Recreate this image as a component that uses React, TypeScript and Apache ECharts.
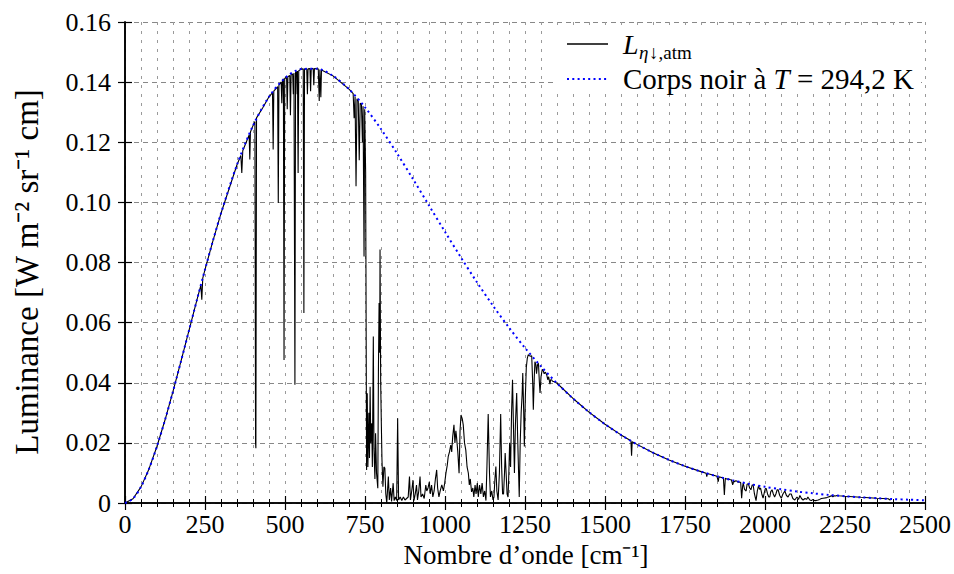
import React, { useEffect, useRef } from "react";
import * as echarts from "echarts";

// Tick labels
const xTickLabels = ["0", "250", "500", "750", "1000", "1250", "1500", "1750", "2000", "2250", "2500"];
const yTickLabels = ["0", "0.02", "0.04", "0.06", "0.08", "0.10", "0.12", "0.14", "0.16"];

// Blackbody at T = 294.2 K
const bbWavenumber = [
  0, 25, 50, 75, 100, 125, 150, 175, 200, 225, 250, 275, 300, 350, 400, 450, 500, 550, 600, 650, 700,
  750, 800, 850, 900, 950, 1000, 1050, 1100, 1150, 1200, 1250, 1300, 1350, 1400, 1450, 1500, 1550,
  1600, 1650, 1700, 1750, 1800, 1850, 1900, 1950, 2000, 2050, 2100, 2150, 2200, 2250, 2300, 2350,
  2400, 2450, 2500,
];
const bbRadiance = [
  0, 0.00143, 0.00537, 0.01134, 0.01888, 0.0276, 0.03713, 0.04717, 0.05742, 0.06766, 0.07766,
  0.08729, 0.09637, 0.11252, 0.12552, 0.13512, 0.14133, 0.14433, 0.14445, 0.14208, 0.13767, 0.13163,
  0.12439, 0.11632, 0.10775, 0.09897, 0.09021, 0.08164, 0.07341, 0.06562, 0.05834, 0.0516, 0.04543,
  0.03983, 0.03477, 0.03024, 0.02621, 0.02265, 0.0195, 0.01675, 0.01434, 0.01225, 0.01044, 0.00888,
  0.00753, 0.00637, 0.00538, 0.00454, 0.00382, 0.00321, 0.00269, 0.00226, 0.00189, 0.00158, 0.00132,
  0.0011, 0.00091,
];

// Downwelling atmospheric radiance [wavenumber, radiance]
const atmRotationalBand: [number, number][] = [
  [0, 0], [25, 0.00143], [50, 0.00537], [75, 0.01134], [100, 0.01888], [125, 0.0276],
  [150, 0.03713], [175, 0.04717], [200, 0.05742], [225, 0.06766],
  [237, 0.0724], [240, 0.0676], [243, 0.0748], [250, 0.07766], [275, 0.08729], [300, 0.09637],
  [350, 0.11252],
  [362, 0.1156], [365, 0.1098], [368, 0.1172], [388, 0.1224], [390, 0.1143], [392, 0.1234],
  [400, 0.12552], [406, 0.1269], [408, 0.02], [409, 0.0182], [411, 0.1281], [430, 0.1314],
  [450, 0.13512], [461, 0.1365], [463, 0.1176], [465, 0.137], [477, 0.1385], [479, 0.0998],
  [481, 0.139], [488, 0.14], [490, 0.133], [492, 0.1405], [495, 0.1411], [497, 0.0476],
  [499, 0.1412], [505, 0.1417], [507, 0.131], [509, 0.1418], [515, 0.1422], [517, 0.129],
  [519, 0.1424], [524, 0.1427], [526, 0.136], [528, 0.143], [530, 0.1431], [531, 0.0393],
  [533, 0.1432], [536, 0.1435], [538, 0.136], [539, 0.1437], [541, 0.1098], [543, 0.1438],
];
const atmCO2Band: [number, number][] = [
  [550, 0.14433], [557, 0.1444], [559, 0.0632], [561, 0.1444], [568, 0.1444], [570, 0.136],
  [572, 0.1444], [578, 0.1445], [580, 0.137], [582, 0.1445], [588, 0.1445], [590, 0.139],
  [592, 0.1445], [600, 0.14445], [604, 0.1444], [607, 0.1337], [609, 0.1442], [612, 0.135],
  [614, 0.144], [650, 0.14208], [700, 0.13767], [713, 0.1362], [716, 0.128], [719, 0.1352],
  [722, 0.1054], [725, 0.1345], [729, 0.1336], [732, 0.114], [735, 0.133], [739, 0.1325],
  [742, 0.12], [744, 0.132], [747, 0.082], [749, 0.131], [752, 0.11], [755, 0.011],
  [757, 0.0365], [759, 0.012], [762, 0.03], [764, 0.015], [766, 0.0387], [768, 0.02],
  [771, 0.0265], [773, 0.012], [776, 0.0554], [778, 0.018], [781, 0.008], [783, 0.0232],
  [786, 0.01], [790, 0.0049], [792, 0.045], [794, 0.0665], [796, 0.05], [797, 0.0843],
  [799, 0.04], [801, 0.0266], [803, 0.0145], [806, 0.0054], [809, 0.012], [812, 0.0116],
  [815, 0.003], [818, 0.0],
];
const atmWindow: [number, number][] = [
  [823, 0.0088], [826, 0.001], [830, 0.005], [833, 0.0005], [838, 0.0066], [841, 0.0008],
  [845, 0.002], [849, 0.0008], [852, 0.0282], [855, 0.001], [860, 0.002], [865, 0.0008],
  [870, 0.002], [875, 0.001], [880, 0.0015], [885, 0.002], [889, 0.0088], [892, 0.001],
  [896, 0.004], [900, 0.0076], [903, 0.0008], [907, 0.003], [911, 0.006], [914, 0.001],
  [918, 0.004], [922, 0.0088], [925, 0.002], [930, 0.003], [935, 0.0015], [940, 0.006],
  [943, 0.004], [947, 0.005], [951, 0.007], [954, 0.003], [958, 0.006], [962, 0.002],
  [966, 0.004], [970, 0.008], [974, 0.011], [977, 0.005], [981, 0.002], [985, 0.004],
  [990, 0.006], [995, 0.004], [999, 0.0066], [1003, 0.01], [1007, 0.0125], [1010, 0.0154],
  [1014, 0.017], [1018, 0.0193], [1021, 0.017], [1024, 0.022], [1028, 0.026], [1031, 0.02],
  [1034, 0.024], [1036, 0.022], [1040, 0.017], [1044, 0.0099], [1047, 0.024], [1050, 0.0293],
  [1054, 0.028], [1057, 0.026], [1061, 0.02], [1065, 0.0176], [1069, 0.012], [1073, 0.0099],
  [1076, 0.006], [1079, 0.008], [1083, 0.0037], [1087, 0.005], [1090, 0.002], [1094, 0.006],
  [1097, 0.003], [1101, 0.0066], [1104, 0.002], [1108, 0.006], [1112, 0.003], [1116, 0.0066],
  [1120, 0.002], [1124, 0.004], [1128, 0.0008], [1131, 0.012], [1135, 0.0296], [1139, 0.01],
  [1142, 0.002], [1146, 0.004], [1150, 0.001], [1153, 0.002], [1156, 0.008], [1159, 0.0121],
  [1162, 0.004], [1166, 0.001], [1170, 0.01], [1174, 0.0296], [1177, 0.012], [1180, 0.003],
  [1183, 0.003], [1186, 0.01], [1188, 0.0166], [1191, 0.01], [1194, 0.003], [1197, 0.002],
  [1199, 0.008], [1202, 0.02], [1205, 0.012], [1208, 0.03], [1211, 0.041], [1214, 0.025],
  [1217, 0.01], [1220, 0.026], [1224, 0.0366], [1227, 0.022], [1230, 0.01], [1232, 0.002],
  [1235, 0.02], [1238, 0.03], [1241, 0.036], [1243, 0.0432], [1246, 0.03], [1248, 0.0188],
  [1251, 0.035], [1254, 0.045], [1257, 0.048], [1260, 0.0493], [1264, 0.049], [1268, 0.0488],
  [1271, 0.049], [1274, 0.04], [1276, 0.031], [1279, 0.042], [1281, 0.047], [1284, 0.046],
  [1286, 0.043], [1289, 0.046], [1292, 0.0465], [1295, 0.04], [1297, 0.0366], [1300, 0.042],
  [1304, 0.0445], [1307, 0.044], [1310, 0.043], [1314, 0.0435], [1318, 0.0426], [1321, 0.041],
  [1324, 0.042], [1328, 0.0395], [1330, 0.041], [1333, 0.041], [1336, 0.0405], [1340, 0.0404],
];
const atmWaterBand: [number, number][] = [
  [1350, 0.03983], [1400, 0.03477], [1450, 0.03024], [1500, 0.02621], [1550, 0.02265],
  [1581, 0.0207], [1583, 0.0157], [1585, 0.0204], [1600, 0.0195], [1650, 0.01675],
  [1700, 0.01434], [1750, 0.01225], [1800, 0.01044], [1816, 0.0099], [1818, 0.0088],
  [1820, 0.0098], [1850, 0.00888], [1852, 0.0088], [1854, 0.0071], [1856, 0.0087],
  [1865, 0.0085], [1870, 0.0083], [1873, 0.0027], [1876, 0.0082], [1880, 0.008], [1885, 0.008],
  [1890, 0.0078], [1895, 0.0077], [1899, 0.006], [1902, 0.0075], [1905, 0.007], [1908, 0.0074],
  [1912, 0.0073], [1916, 0.0069], [1920, 0.007], [1924, 0.0068], [1927, 0.0016], [1930, 0.0055],
  [1932, 0.0066], [1936, 0.0045], [1941, 0.004], [1944, 0.0062], [1948, 0.0064], [1952, 0.005],
  [1956, 0.0044], [1960, 0.006], [1963, 0.006], [1967, 0.003], [1972, 0.0008], [1976, 0.004],
  [1980, 0.0058], [1983, 0.0045], [1986, 0.005], [1990, 0.003], [1994, 0.0016], [1998, 0.0035],
  [2001, 0.0048], [2004, 0.0048], [2008, 0.003], [2012, 0.002], [2015, 0.002], [2018, 0.0038],
  [2022, 0.0044], [2026, 0.003], [2030, 0.002], [2034, 0.003], [2038, 0.0044], [2041, 0.0044],
  [2046, 0.0025], [2051, 0.0016], [2056, 0.003], [2062, 0.004], [2067, 0.0025], [2072, 0.002],
  [2077, 0.003], [2082, 0.003], [2087, 0.0015], [2093, 0.001], [2100, 0.002], [2105, 0.0012],
  [2109, 0.0025], [2114, 0.0015], [2119, 0.001], [2125, 0.0015], [2130, 0.0012], [2134, 0.002],
  [2140, 0.001], [2145, 0.0008], [2150, 0.0012], [2155, 0.0008], [2160, 0.0008], [2166, 0.001],
  [2171, 0.0012], [2176, 0.0015], [2182, 0.0016], [2188, 0.0017], [2193, 0.0018], [2198, 0.002],
  [2203, 0.0022], [2208, 0.0024], [2212, 0.0021], [2216, 0.0024], [2220, 0.0023], [2225, 0.0025],
  [2230, 0.0024], [2240, 0.00235], [2250, 0.00226], [2300, 0.00189], [2350, 0.00158],
  [2385, 0.0014], [2392, 0.0009],
];

const atmSpectrum = [...atmRotationalBand, ...atmCO2Band, ...atmWindow, ...atmWaterBand];

const SERIF = "Liberation Serif";

export default function App() {
  const ref = useRef<HTMLDivElement>(null);

  useEffect(() => {
    if (!ref.current) return;
    const chart = echarts.init(ref.current, null, { renderer: "svg" });

    const commonX = { type: "value" as const, min: 0, max: 2500, interval: 250 };
    const commonY = { type: "value" as const, min: 0, max: 0.16, interval: 0.02 };
    const axisLine = { show: true, lineStyle: { color: "#000", width: 1.6 } };
    const axisTick = { show: true, inside: true, length: 7, lineStyle: { color: "#000", width: 1.2 } };
    const minorTick = { show: true, splitNumber: 5, length: 4, lineStyle: { color: "#000", width: 1 } };

    const option: any = {
      animation: false,
      backgroundColor: "#ffffff",
      textStyle: { fontFamily: SERIF },
      grid: { left: 125, right: 29, top: 22, bottom: 71, containLabel: false },
      xAxis: [
        {
          ...commonX,
          position: "bottom",
          axisLine,
          axisTick,
          minorTick,
          splitLine: { show: true, lineStyle: { color: "#9a9a9a", width: 1, type: [3, 6] } },
          minorSplitLine: { show: true, lineStyle: { color: "#9a9a9a", width: 1, type: [3, 6] } },
          axisLabel: {
            show: true,
            margin: 10,
            color: "#000",
            fontFamily: SERIF,
            fontSize: 26,
            lineHeight: 22,
            formatter: (v: number) => xTickLabels[Math.round(v / 250)] ?? "",
          },
        },
        {
          ...commonX,
          position: "top",
          axisLine,
          axisTick,
          minorTick,
          splitLine: { show: false },
          minorSplitLine: { show: false },
          axisLabel: { show: false },
        },
      ],
      yAxis: [
        {
          ...commonY,
          position: "left",
          axisLine,
          axisTick,
          splitLine: { show: true, lineStyle: { color: "#888", width: 1, type: [5, 4] } },
          axisLabel: {
            show: true,
            margin: 14,
            color: "#000",
            fontFamily: SERIF,
            fontSize: 26,
            formatter: (v: number) => yTickLabels[Math.round(v / 0.02)] ?? "",
          },
        },
        {
          ...commonY,
          position: "right",
          axisLine,
          axisTick,
          splitLine: { show: false },
          axisLabel: { show: false },
        },
      ],
      series: [
        {
          name: "atm",
          type: "line",
          data: atmSpectrum,
          symbol: "none",
          showSymbol: false,
          lineStyle: { color: "#000", width: 1.1 },
          z: 3,
        },
        {
          name: "bb",
          type: "line",
          data: bbWavenumber.map((n, i) => [n, bbRadiance[i]]),
          smooth: 0.3,
          symbol: "none",
          showSymbol: false,
          lineStyle: { color: "#0000ff", width: 2, type: [2, 3.3] },
          z: 4,
        },
      ],
      graphic: [
        {
          type: "rect",
          z: 100,
          shape: { x: 553, y: 26, width: 368, height: 68 },
          style: { fill: "#ffffff" },
        },
        {
          type: "line",
          z: 101,
          shape: { x1: 567, y1: 44, x2: 608, y2: 44 },
          style: { stroke: "#000", lineWidth: 1.3 },
        },
        {
          type: "text",
          z: 101,
          x: 623,
          y: 44,
          style: {
            text: "L",
            fontFamily: SERIF,
            fontSize: 28,
            fontStyle: "italic",
            fill: "#000",
            align: "left",
            verticalAlign: "middle",
          },
        },
        {
          type: "text",
          z: 101,
          x: 639,
          y: 52,
          style: {
            text: "η",
            fontFamily: SERIF,
            fontSize: 19,
            fontStyle: "italic",
            fill: "#000",
            align: "left",
            verticalAlign: "middle",
          },
        },
        {
          type: "text",
          z: 101,
          x: 649,
          y: 52,
          style: {
            text: "↓,atm",
            fontFamily: SERIF,
            fontSize: 19,
            fill: "#000",
            align: "left",
            verticalAlign: "middle",
          },
        },
        {
          type: "line",
          z: 101,
          shape: { x1: 567, y1: 79, x2: 608, y2: 79 },
          style: { stroke: "#0000ff", lineWidth: 2, lineDash: [2, 3.3] },
        },
        {
          type: "text",
          z: 101,
          x: 623,
          y: 79,
          style: {
            text: "Corps noir à {i|T} = 294,2 K",
            rich: { i: { fontStyle: "italic", fontFamily: SERIF, fontSize: 29, fill: "#000" } },
            fontFamily: SERIF,
            fontSize: 29,
            fill: "#000",
            align: "left",
            verticalAlign: "middle",
          },
        },
        {
          type: "text",
          x: 526,
          y: 555,
          style: {
            text: "Nombre d’onde [cm⁻¹]",
            fontFamily: SERIF,
            fontSize: 27,
            lineHeight: 26,
            fill: "#000",
            align: "center",
            verticalAlign: "middle",
          },
        },
        {
          type: "text",
          x: 27,
          y: 272,
          rotation: Math.PI / 2,
          style: {
            text: "Luminance [W m⁻² sr⁻¹ cm]",
            fontFamily: SERIF,
            fontSize: 33,
            fill: "#000",
            align: "center",
            verticalAlign: "middle",
          },
        },
      ],
    };

    chart.setOption(option);
    return () => chart.dispose();
  }, []);

  return (
    <div
      ref={ref}
      style={{ position: "fixed", left: 0, top: 0, width: 954, height: 574, background: "#fff" }}
    />
  );
}
